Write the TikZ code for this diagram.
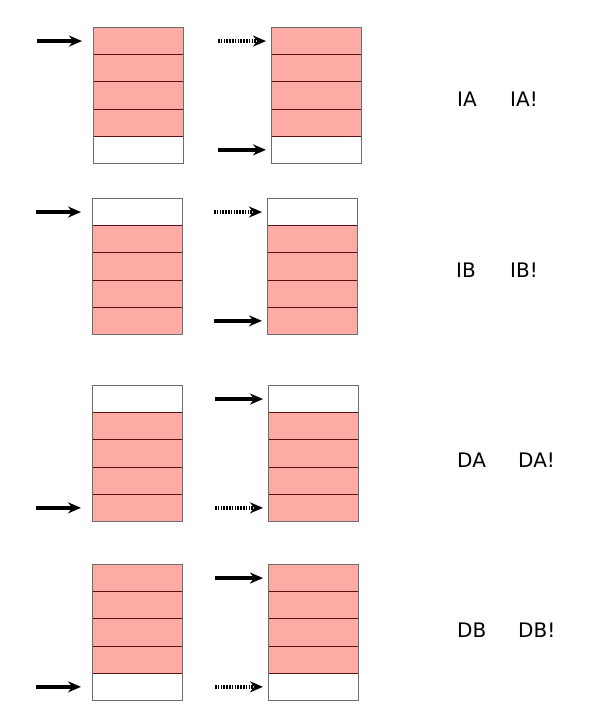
\documentclass[tikz,border=0pt]{standalone}
\usepackage{fontspec}
\setmainfont{DejaVu Sans}
\usetikzlibrary{arrows.meta, positioning}
\definecolor{cpink}{HTML}{FCACA5}
\definecolor{cline}{HTML}{5C1010}
\definecolor{cframe}{HTML}{6E6E6E}
\tikzset{
  every picture/.style={x=1pt, y=-1pt},
  cell/.style={fill=#1, draw=cline, line width=0.9pt, minimum width=90pt, minimum height=27.2pt, inner sep=0pt, anchor=north west},
  frame/.style={draw=cframe, line width=1pt},
  ptr/.style={-{Stealth[length=13pt, width=11pt]}, line width=3.8pt, shorten >=#1},
  ptr/.default=5pt,
  ghost/.style={ptr, dash pattern=on 1.6pt off 1.2pt},
  tag/.style={font=\fontsize{20}{24}\selectfont, anchor=base west, inner sep=0pt},
}

\begin{document}
\begin{tikzpicture}
  \useasboundingbox (0,0) rectangle (598,724);
  % stacks: row / top / left x / right x / free cell
  \foreach \r/\ty/\lx/\rx/\w in {1/27/93/271/5, 2/198/92/267/1, 3/385/92/268/1, 4/564/92/268/5} {
    \foreach \c in {1,...,5} {
      \ifnum\c=\w \def\cfill{white}\else\def\cfill{cpink}\fi
      \node[cell=\cfill] (L\r c\c) at (\lx, \ty+27.2*\c-27.2) {};
      \node[cell=\cfill] (R\r c\c) at (\rx, \ty+27.2*\c-27.2) {};
    }
    \draw[frame] (L\r c1.north west) rectangle (L\r c5.south east);
    \draw[frame] (R\r c1.north west) rectangle (R\r c5.south east);
  }
  % pointers: row / left / right solid / right dotted
  \foreach \r/\la/\rs/\rd in {1/1/5/1, 2/1/5/1, 3/5/1/5, 4/5/1/5} {
    \coordinate[left=56pt of L\r c\la.west] (la\r);
    \coordinate[left=53pt of R\r c\rs.west] (rs\r);
    \coordinate[left=53pt of R\r c\rd.west] (rd\r);
    \draw[ptr=11pt] (la\r) -- (L\r c\la);
    \draw[ptr] (rs\r) -- (R\r c\rs);
    \draw[ghost] (rd\r) -- (R\r c\rd);
  }
  % labels
  \node[tag] (tIA) at (457,106) {IA};
  \node[tag] (tIAx) at (510,106) {IA!};
  \node[tag] (tIB) at (456,277) {IB};
  \node[tag] (tIBx) at (510,277) {IB!};
  \node[tag] (tDA) at (457,467) {DA};
  \node[tag] (tDAx) at (518,467) {DA!};
  \node[tag] (tDB) at (457,637) {DB};
  \node[tag] (tDBx) at (518,637) {DB!};
\end{tikzpicture}
\end{document}
